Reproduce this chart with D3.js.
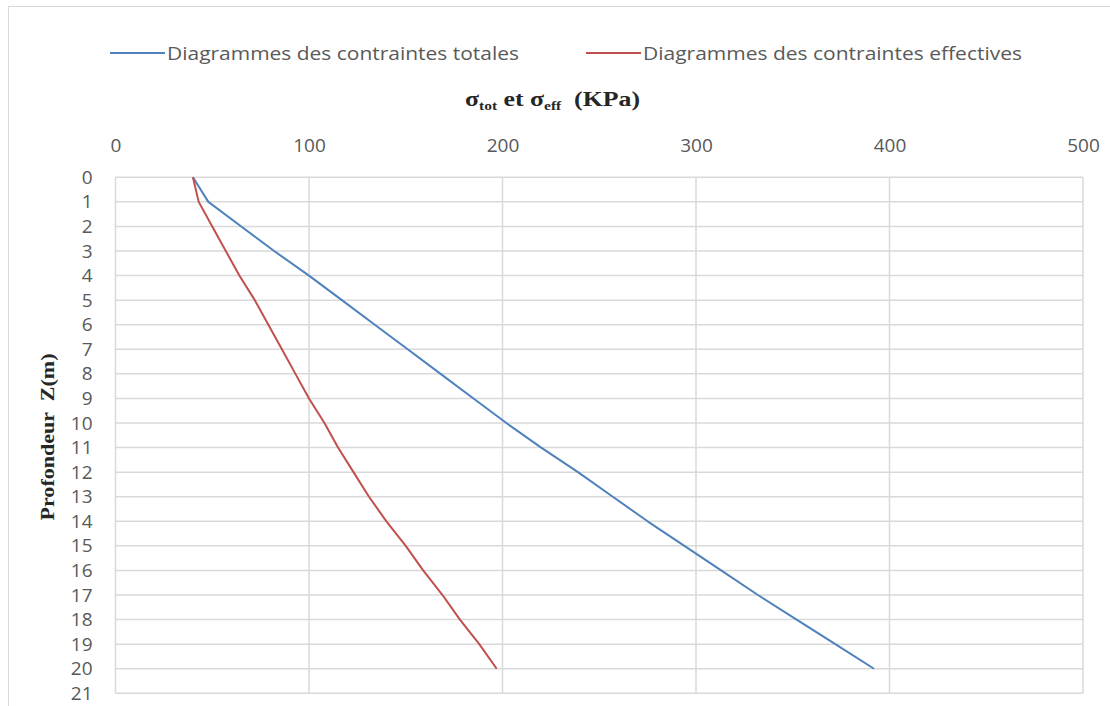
<!DOCTYPE html>
<html>
<head>
<meta charset="utf-8">
<script src="https://cdn.jsdelivr.net/npm/d3@7"></script>
<style>
  html, body { margin: 0; padding: 0; background: #fff; }
  svg { display: block; }
</style>
</head>
<body>
<svg id="chart" width="1110" height="706"></svg>
<script>
// Depth (m) of each reading
const depths = [0, 1, 2, 3, 4, 5, 6, 7, 8, 9, 10, 11, 12, 13, 14, 15, 16, 17, 18, 19, 20];
// Total vertical stress (kPa)
const sigmaTot = [40, 48, 65, 82, 100, 117, 134, 151, 168, 185, 202, 220, 239, 257, 275, 294, 313, 332, 352, 372, 392];
// Effective vertical stress (kPa)
const sigmaEff = [40, 43, 50, 57, 64, 72, 79, 86, 93, 100, 108, 115, 123, 131, 140, 150, 159, 169, 178, 188, 197];

const xTicks = [0, 100, 200, 300, 400, 500];
const yTicks = d3.range(0, 22);

const seriesNames = ["Diagrammes des contraintes totales", "Diagrammes des contraintes effectives"];
const seriesColors = ["#4F81BD", "#C0504D"];

const svg = d3.select("#chart");
const font = "'Open Sans', sans-serif";
const serif = "'Liberation Serif', 'DejaVu Serif', serif";
const labelColor = "#595959";

// chart frame
svg.append("rect")
  .attr("x", 8.5).attr("y", 6.5)
  .attr("width", 1120).attr("height", 720)
  .attr("fill", "none").attr("stroke", "#d9d9d9").attr("stroke-width", 1);

const plot = { left: 115.5, right: 1083, top: 177.3, bottom: 693.3 };

const x = d3.scaleLinear().domain([0, 500]).range([plot.left, plot.right]);
const y = d3.scaleLinear().domain([0, 21]).range([plot.top, plot.bottom]);

// gridlines
const grid = svg.append("g");
grid.selectAll("line.h").data(yTicks).join("line")
  .attr("x1", plot.left).attr("x2", plot.right)
  .attr("y1", d => y(d)).attr("y2", d => y(d))
  .attr("stroke", "#d9d9d9").attr("stroke-width", 1.5);
grid.selectAll("line.v").data(xTicks).join("line")
  .attr("y1", plot.top).attr("y2", plot.bottom)
  .attr("x1", d => x(d)).attr("x2", d => x(d))
  .attr("stroke", "#d9d9d9").attr("stroke-width", 1.5);

// top axis (stress)
const xAxis = svg.append("g")
  .attr("transform", `translate(0, ${plot.top - 25})`)
  .call(d3.axisTop(x).tickValues(xTicks).tickSize(0).tickPadding(0));
xAxis.select(".domain").remove();
xAxis.selectAll("text")
  .attr("font-family", font).attr("font-size", 19).attr("fill", labelColor)
  .attr("dy", 0);

// left axis (depth)
const yAxis = svg.append("g")
  .attr("transform", `translate(${plot.left - 23}, 0)`)
  .call(d3.axisLeft(y).tickValues(yTicks).tickSize(0).tickPadding(0));
yAxis.select(".domain").remove();
yAxis.selectAll("text")
  .attr("font-family", font).attr("font-size", 19).attr("fill", labelColor);

// stress profiles
const line = d3.line().x(d => x(d[0])).y(d => y(d[1]));
[sigmaTot, sigmaEff].forEach((vals, i) => {
  svg.append("path")
    .datum(vals.map((v, k) => [v, depths[k]]))
    .attr("d", line)
    .attr("fill", "none")
    .attr("stroke", seriesColors[i])
    .attr("stroke-width", 2)
    .attr("stroke-linejoin", "round");
});

// legend
const legendPos = [110, 586];
const legendWidths = [352, 379];
const legend = svg.append("g");
seriesNames.forEach((name, i) => {
  const g = legend.append("g").attr("transform", `translate(${legendPos[i]}, 53)`);
  g.append("line").attr("x1", 0).attr("x2", 55).attr("y1", 0).attr("y2", 0)
    .attr("stroke", seriesColors[i]).attr("stroke-width", 2);
  g.append("text").attr("x", 57).attr("y", 0).attr("dy", "0.35em")
    .attr("font-family", font).attr("font-size", 19).attr("fill", labelColor)
    .attr("textLength", legendWidths[i]).attr("lengthAdjust", "spacingAndGlyphs")
    .text(name);
});

// axis titles
const title = svg.append("text")
  .attr("x", 465).attr("y", 106)
  .attr("font-family", serif).attr("font-weight", "bold").attr("font-size", 20)
  .attr("fill", "#262626")
  .attr("textLength", 175).attr("lengthAdjust", "spacingAndGlyphs");
title.append("tspan").text("σ");
title.append("tspan").attr("font-size", 12).attr("dy", 4).text("tot");
title.append("tspan").attr("dy", -4).text(" et σ");
title.append("tspan").attr("font-size", 12).attr("dy", 4).text("eff");
title.append("tspan").attr("dy", -4).attr("xml:space", "preserve").text("  (KPa)");

svg.append("text")
  .attr("transform", `translate(54, 437) rotate(-90)`)
  .attr("text-anchor", "middle")
  .attr("font-family", serif).attr("font-weight", "bold").attr("font-size", 19)
  .attr("fill", "#262626")
  .attr("xml:space", "preserve")
  .attr("textLength", 167).attr("lengthAdjust", "spacingAndGlyphs")
  .text("Profondeur  Z(m)");
</script>
</body>
</html>
